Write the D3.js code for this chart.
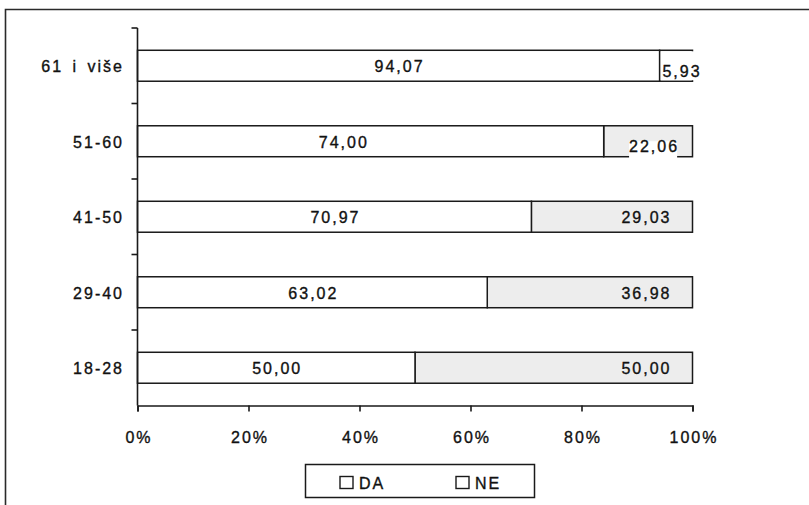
<!DOCTYPE html>
<html>
<head>
<meta charset="utf-8">
<script src="https://cdn.jsdelivr.net/npm/d3@7/dist/d3.min.js"></script>
<style>
  html, body { margin: 0; padding: 0; background: #ffffff; }
  svg { display: block; }
  text { font-family: "Liberation Sans", Arial, Helvetica, sans-serif; fill: #111; stroke: #111; stroke-width: 0.35px; }
</style>
</head>
<body>
<script>
// ---- data ----
const categories = ["61 i više", "51-60", "41-50", "29-40", "18-28"];
// DA share where the bar is split, as drawn
const daBarValues = [94.07, 84.0, 70.97, 63.02, 50.00];
// printed labels
const daLabels = [94.07, 74.00, 70.97, 63.02, 50.00];
const neLabels = [5.93, 22.06, 29.03, 36.98, 50.00];
const xTicks = [0, 0.2, 0.4, 0.6, 0.8, 1.0];
const seriesNames = ["DA", "NE"];

const W = 809, H = 505;
const svg = d3.select("body").append("svg").attr("width", W).attr("height", H);

// outer frame
svg.append("path")
  .attr("d", "M5.5,505 L5.5,9.5 L809,9.5")
  .attr("fill", "none").attr("stroke", "#2a2a2a").attr("stroke-width", 1.6);

const x = d3.scaleLinear().domain([0, 1]).range([137.5, 692.5]);
const y = d3.scaleBand().domain(categories).range([28, 405.5]).paddingInner(0.59).paddingOuter(0.295);

const fmt = v => d3.format(".2f")(v).replace(".", ",");
const fontSize = 16, ls = 2;

const rows = categories.map((c, i) => ({
  cat: c, da: daBarValues[i] / 100, daLab: daLabels[i], neLab: neLabels[i]
}));

const g = svg.append("g");

// NE segments (light stipple grey)
g.selectAll("rect.ne").data(rows).join("rect").attr("class", "ne")
  .attr("x", d => x(d.da)).attr("y", d => y(d.cat))
  .attr("width", d => x(1) - x(d.da)).attr("height", y.bandwidth())
  .attr("fill", "#ededed")
  .attr("stroke", "#1a1a1a").attr("stroke-width", 1.5);

// DA segments (white)
g.selectAll("rect.da").data(rows).join("rect").attr("class", "da")
  .attr("x", x(0)).attr("y", d => y(d.cat))
  .attr("width", d => x(d.da) - x(0)).attr("height", y.bandwidth())
  .attr("fill", "#ffffff")
  .attr("stroke", "#1a1a1a").attr("stroke-width", 1.5);

// DA labels centered on printed value
g.selectAll("text.dal").data(rows).join("text").attr("class", "dal")
  .attr("x", d => x(d.daLab / 200) + ls / 2)
  .attr("y", d => y(d.cat) + y.bandwidth() / 2 + 6.5)
  .attr("text-anchor", "middle")
  .style("font-size", fontSize + "px").style("letter-spacing", ls + "px")
  .text(d => fmt(d.daLab));

// NE labels
const neG = g.selectAll("g.nel").data(rows).join("g").attr("class", "nel");
neG.each(function(d) {
  const sel = d3.select(this);
  const boxed = d.neLab < 25;
  const top = y(d.cat), bot = y(d.cat) + y.bandwidth();
  const cy = top + y.bandwidth() / 2;
  let t;
  if (boxed) {
    t = sel.append("text")
      .attr("x", (x(d.da) + x(1)) / 2 + 6)
      .attr("y", cy + 11)
      .attr("text-anchor", "middle");
  } else {
    t = sel.append("text")
      .attr("x", x(1) - 21)
      .attr("y", cy + 6.5)
      .attr("text-anchor", "end");
  }
  t.style("font-size", fontSize + "px").style("letter-spacing", ls + "px").text(fmt(d.neLab));
  if (boxed) {
    const bb = t.node().getBBox();
    const segW = x(1) - x(d.da);
    if (bb.width > segW) {
      // label wider than its segment: box covers the segment interior and the right edge
      sel.insert("rect", "text")
        .attr("x", x(d.da) + 1).attr("y", top + 1)
        .attr("width", bb.x + bb.width - x(d.da) - 1).attr("height", bot - top - 2)
        .attr("fill", "#ffffff");
    } else {
      sel.insert("rect", "text")
        .attr("x", bb.x).attr("y", bb.y + 3)
        .attr("width", bb.width - 2).attr("height", bot + 1.5 - (bb.y + 3))
        .attr("fill", "#ffffff");
    }
  }
});

// Y axis
const yAxisG = svg.append("g");
yAxisG.append("line").attr("x1", x(0)).attr("x2", x(0)).attr("y1", y.range()[0]).attr("y2", y.range()[1])
  .attr("stroke", "#1a1a1a").attr("stroke-width", 1.6);
const step = y.step();
const bounds = d3.range(categories.length).map(i => y.range()[0] + i * step);
yAxisG.selectAll("line.yt").data(bounds).join("line").attr("class", "yt")
  .attr("x1", x(0) - 6).attr("x2", x(0)).attr("y1", d => d).attr("y2", d => d)
  .attr("stroke", "#1a1a1a").attr("stroke-width", 1.6);
yAxisG.selectAll("text.yl").data(categories).join("text").attr("class", "yl")
  .attr("x", 124).attr("y", d => y(d) + y.bandwidth() / 2 + 6.5)
  .attr("text-anchor", "end")
  .style("font-size", fontSize + "px").style("letter-spacing", ls + "px").style("word-spacing", "3px")
  .text(d => d);

// X axis
const xAxis = d3.axisBottom(x).tickValues(xTicks).tickFormat(d3.format(".0%")).tickSizeInner(6).tickSizeOuter(6).tickPadding(20);
const xg = svg.append("g").attr("transform", `translate(0,${y.range()[1]})`).call(xAxis);
xg.select(".domain").attr("stroke", "#1a1a1a").attr("stroke-width", 1.6);
xg.selectAll(".tick line").attr("stroke", "#1a1a1a").attr("stroke-width", 1.6);
xg.selectAll(".tick text")
  .style("font-family", '"Liberation Sans", Arial, Helvetica, sans-serif')
  .style("font-size", fontSize + "px").style("letter-spacing", ls + "px")
  .attr("fill", "#111").attr("dx", ls / 2);

// Legend
const lg = svg.append("g");
lg.append("rect").attr("x", 305.5).attr("y", 464.5).attr("width", 229).attr("height", 33)
  .attr("fill", "#ffffff").attr("stroke", "#1a1a1a").attr("stroke-width", 1.5);
const legX = d3.scalePoint().domain(seriesNames).range([340, 456]);
const li = lg.selectAll("g.li").data(seriesNames).join("g").attr("class", "li")
  .attr("transform", d => `translate(${legX(d)},0)`);
li.append("rect").attr("x", 0).attr("y", 476.5).attr("width", 13).attr("height", 12)
  .attr("fill", "#ffffff").attr("stroke", "#1a1a1a").attr("stroke-width", 1.4);
li.append("text").attr("x", 19).attr("y", 488.5)
  .style("font-size", fontSize + "px").style("letter-spacing", ls + "px")
  .text(d => d);
</script>
</body>
</html>
